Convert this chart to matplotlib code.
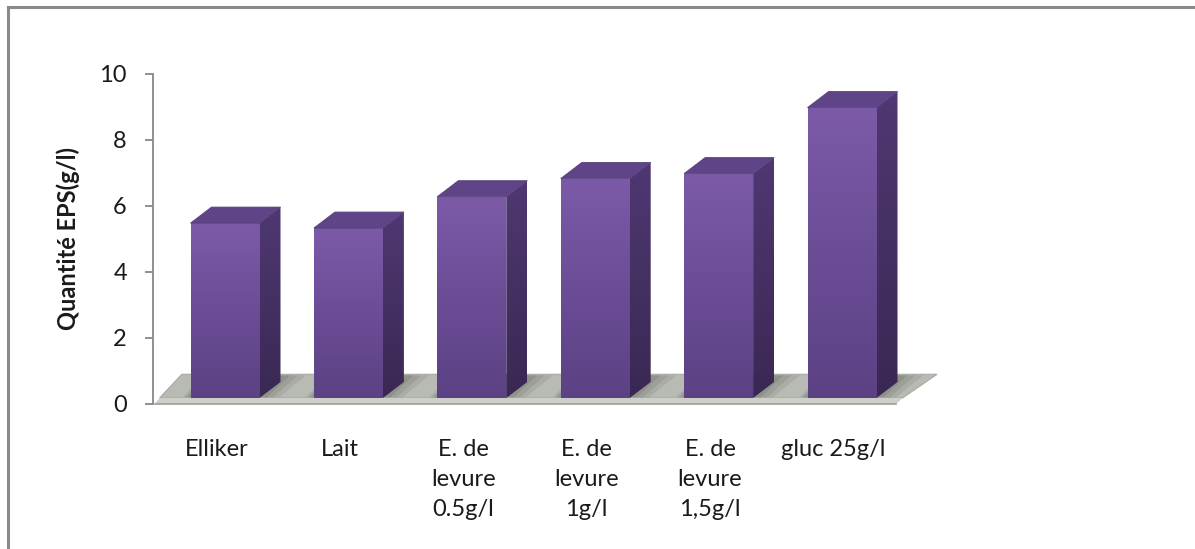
import numpy as np
import matplotlib
matplotlib.use("Agg")
import matplotlib.pyplot as plt
from matplotlib.patches import Polygon
from matplotlib.lines import Line2D
from matplotlib.colors import LinearSegmentedColormap

categories = ["Elliker", "Lait", "E. de\nlevure\n0.5g/l", "E. de\nlevure\n1g/l",
              "E. de\nlevure\n1,5g/l", "gluc 25g/l"]
values = [5.3, 5.15, 6.1, 6.65, 6.8, 8.8]
yticks = [0, 2, 4, 6, 8, 10]
ylabel = "Quantité EPS(g/l)"

plt.rcParams['font.family'] = ['Lato', 'DejaVu Sans']

W, H = 1195, 549
fig = plt.figure(figsize=(W / 100, H / 100), dpi=100)
fig.patch.set_facecolor('white')

# axes placement (pixels)
ax_l, ax_r, ax_b, ax_t = 153, 940, 404, 74
ax = fig.add_axes([ax_l / W, (H - ax_b) / H, (ax_r - ax_l) / W, (ax_b - ax_t) / H])
xspan = 123.4
x0 = (ax_l - 225) / xspan
x1 = (ax_r - 225) / xspan

n = len(values)
xs = np.arange(n)
bar_w = 69 / xspan
ddx = 21 / xspan
ddy = 16 / 33
base = 6 / 33

# floor
fl_front_l, fl_front_r = -0.53, n - 1 + 0.49
fl_back_l, fl_back_r = -0.35, n - 1 + 0.77
fl_back_y = 0.9
floor_top = Polygon([(fl_front_l, base), (fl_front_r, base), (fl_back_r, fl_back_y),
                     (fl_back_l, fl_back_y)], closed=True, facecolor='#b8bbb4',
                    edgecolor='#a7aaa3', lw=0.8, clip_on=False, zorder=1)
ax.add_patch(floor_top)
floor_front = Polygon([(fl_front_l - 0.04, 0), (fl_front_r - 0.05, 0), (fl_front_r, base),
                       (fl_front_l, base)], closed=True, facecolor='#cdcfc9',
                      edgecolor='none', clip_on=False, zorder=1)
ax.add_patch(floor_front)
ax.add_line(Line2D([fl_front_l - 0.04, fl_front_r - 0.05], [0, 0], color='#9c9e99',
                   lw=1.2, clip_on=False, zorder=1))

front_cmap = LinearSegmentedColormap.from_list('f', ['#5c4184', '#6b4d96', '#7c5aa8'])
side_cmap = LinearSegmentedColormap.from_list('s', ['#3a2853', '#4f3872'])
grad = np.linspace(0, 1, 256).reshape(-1, 1)

for i, v in enumerate(values):
    xl = xs[i] - bar_w / 2
    xr = xs[i] + bar_w / 2
    yb = base
    yt = v + base
    # soft shadow on floor
    for k, a in enumerate([0.18, 0.22, 0.3]):
        grow = 0.16 - 0.05 * k
        sh = Polygon([(xl - grow * 0.4, yb + 0.02), (xr + grow, yb + 0.02),
                      (xr + ddx + grow * 1.3, fl_back_y - 0.03),
                      (xl + ddx - grow * 0.4, fl_back_y - 0.03)], closed=True,
                     facecolor='#6f726b', edgecolor='none', alpha=a, zorder=2)
        ax.add_patch(sh)
    # front face gradient
    front = Polygon([(xl, yb), (xr, yb), (xr, yt), (xl, yt)], closed=True,
                    facecolor='none', edgecolor='none', zorder=3)
    ax.add_patch(front)
    im = ax.imshow(grad, cmap=front_cmap, extent=(xl, xr, yb, yt), origin='lower',
                   aspect='auto', zorder=3, interpolation='bilinear')
    im.set_clip_path(front)
    # side face
    side = Polygon([(xr, yb), (xr + ddx, yb + ddy), (xr + ddx, yt + ddy), (xr, yt)],
                   closed=True, facecolor='none', edgecolor='none', zorder=3)
    ax.add_patch(side)
    im2 = ax.imshow(grad, cmap=side_cmap, extent=(xr, xr + ddx, yb, yt + ddy),
                    origin='lower', aspect='auto', zorder=3, interpolation='bilinear')
    im2.set_clip_path(side)
    # top face
    top = Polygon([(xl, yt), (xr, yt), (xr + ddx, yt + ddy), (xl + ddx, yt + ddy)],
                  closed=True, facecolor='#5f4487', edgecolor='#56407a', lw=0.6, zorder=4,
                  clip_on=False)
    ax.add_patch(top)

ax.set_xlim(x0, x1)
ax.set_ylim(0, 10)

for s in ['top', 'right', 'bottom']:
    ax.spines[s].set_visible(False)
ax.spines['left'].set_color('#878787')
ax.spines['left'].set_linewidth(1.3)

ax.set_yticks(yticks)
ax.set_yticklabels([str(t) for t in yticks])
ax.tick_params(axis='y', direction='out', length=5.8, width=1.3, color='#878787',
               pad=13, labelsize=17, labelcolor='#1a1a1a')

ax.set_xticks(xs - 0.07)
ax.set_xticklabels(categories, linespacing=1.55)
ax.tick_params(axis='x', length=0, pad=25, labelsize=17, labelcolor='#1a1a1a')

ax.set_ylabel(ylabel, fontsize=17, fontweight='bold', color='#1a1a1a', va='center')
ax.yaxis.set_label_coords((68 - ax_l) / (ax_r - ax_l), 0.5)

# chart frame (only top and left edges are within the picture)
fx = 7.5 / W
fy = 1 - 6.5 / H
fig.add_artist(Line2D([fx, 1.0], [fy, fy], transform=fig.transFigure,
                      color='#8a8a8a', lw=2.2))
fig.add_artist(Line2D([fx, fx], [0, fy], transform=fig.transFigure,
                      color='#8a8a8a', lw=2.2))

fig.savefig('out.png', dpi=100, facecolor='white')
